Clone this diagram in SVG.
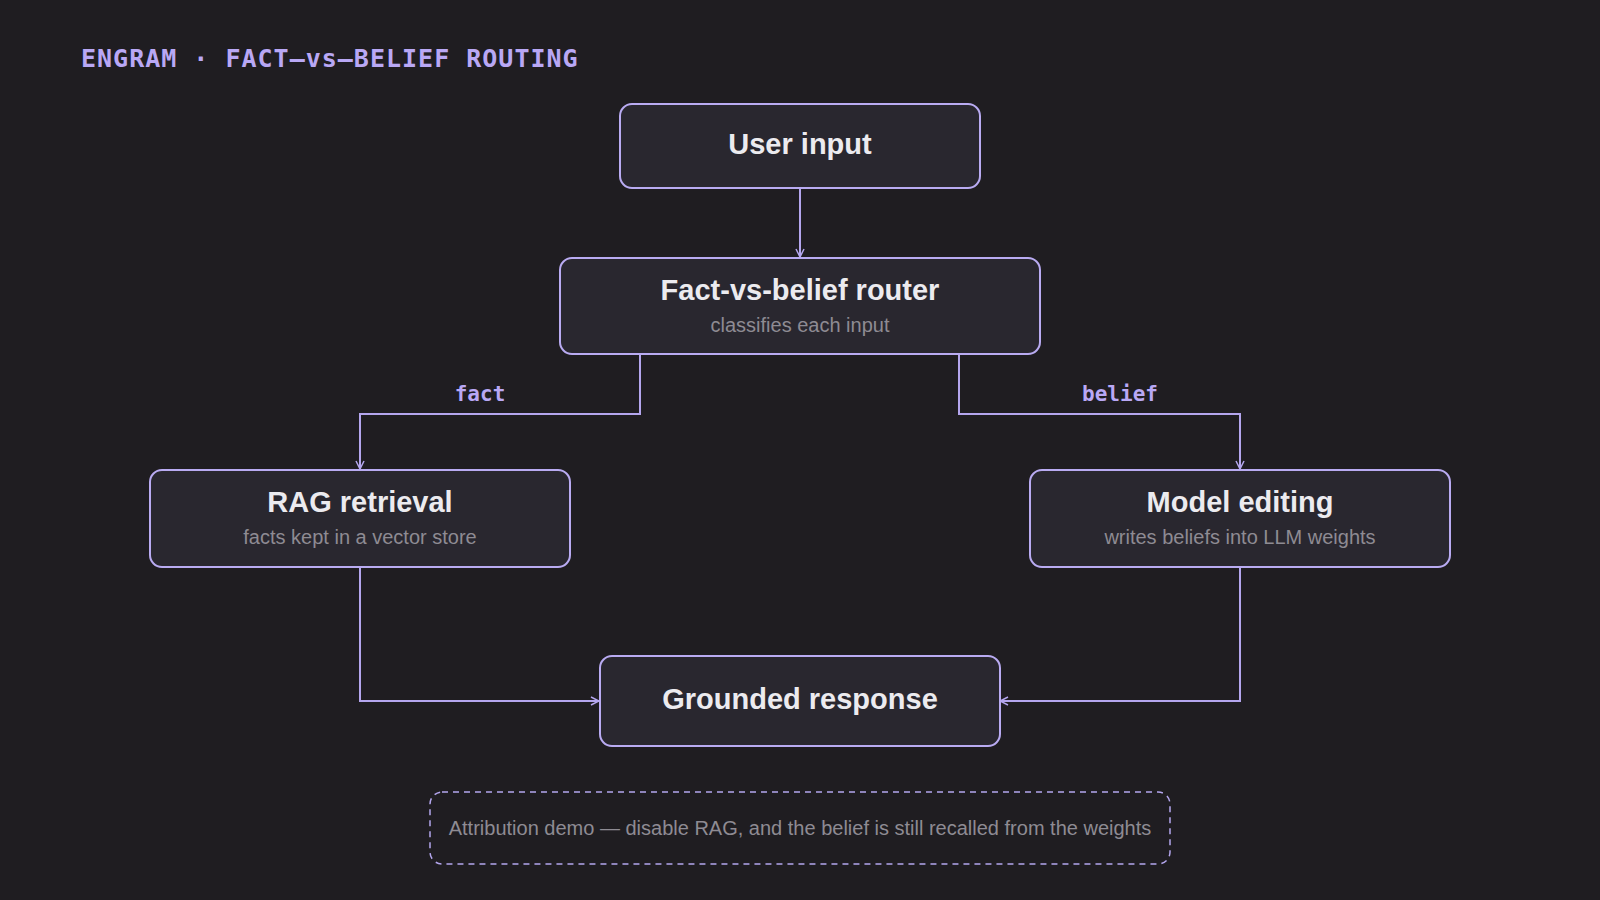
<svg xmlns="http://www.w3.org/2000/svg" width="1600" height="900" viewBox="0 0 1600 900">
<defs>
<marker id="arr" viewBox="0 0 10 10" refX="9" refY="5" markerWidth="10" markerHeight="10" markerUnits="userSpaceOnUse" orient="auto"><path d="M1,1 L9,5 L1,9" fill="none" stroke="#b4a6ee" stroke-width="1.5"/></marker>
<style>
.box{fill:#29272f;stroke:#b9abf2;stroke-width:2}
.t{font-family:"Liberation Sans",Arial,sans-serif;font-weight:bold;font-size:29px;fill:#ecebef;text-anchor:middle}
.s{font-family:"Liberation Sans",Arial,sans-serif;font-size:20px;fill:#8e8b93;text-anchor:middle}
.c{fill:none;stroke:#b4a6ee;stroke-width:2}
.l{font-family:"DejaVu Sans Mono",monospace;font-weight:bold;font-size:21px;fill:#b9a8f5;text-anchor:middle}
</style>
</defs>
<rect width="1600" height="900" fill="#1f1d21"/>
<text x="81" y="67" font-family="DejaVu Sans Mono,monospace" font-weight="bold" font-size="25" fill="#b9a8f5" letter-spacing="1">ENGRAM · FACT–vs–BELIEF ROUTING</text>
<g id="connectors">
<path class="c" d="M800,188 V257" marker-end="url(#arr)"/>
<path class="c" d="M640,354 V414 H360 V469" marker-end="url(#arr)"/>
<path class="c" d="M959,354 V414 H1240 V469" marker-end="url(#arr)"/>
<path class="c" d="M360,567 V701 H599" marker-end="url(#arr)"/>
<path class="c" d="M1240,567 V701 H1000" marker-end="url(#arr)"/>
<text class="l" x="480" y="401">fact</text>
<text class="l" x="1120" y="401">belief</text>
</g>
<g id="user"><rect class="box" x="620" y="104" width="360" height="84" rx="12"/><text class="t" x="800" y="154">User input</text></g>
<g id="router"><rect class="box" x="560" y="258" width="480" height="96" rx="12"/><text class="t" x="800" y="300">Fact-vs-belief router</text><text class="s" x="800" y="332">classifies each input</text></g>
<g id="rag"><rect class="box" x="150" y="470" width="420" height="97" rx="12"/><text class="t" x="360" y="512">RAG retrieval</text><text class="s" x="360" y="544">facts kept in a vector store</text></g>
<g id="model"><rect class="box" x="1030" y="470" width="420" height="97" rx="12"/><text class="t" x="1240" y="512">Model editing</text><text class="s" x="1240" y="544">writes beliefs into LLM weights</text></g>
<g id="grounded"><rect class="box" x="600" y="656" width="400" height="90" rx="12"/><text class="t" x="800" y="709">Grounded response</text></g>
<g id="note"><rect x="430" y="792" width="740" height="72" rx="12" fill="none" stroke="#b4a6ee" stroke-width="1.5" stroke-dasharray="6,5"/><text class="s" x="800" y="835">Attribution demo — disable RAG, and the belief is still recalled from the weights</text></g>
</svg>
